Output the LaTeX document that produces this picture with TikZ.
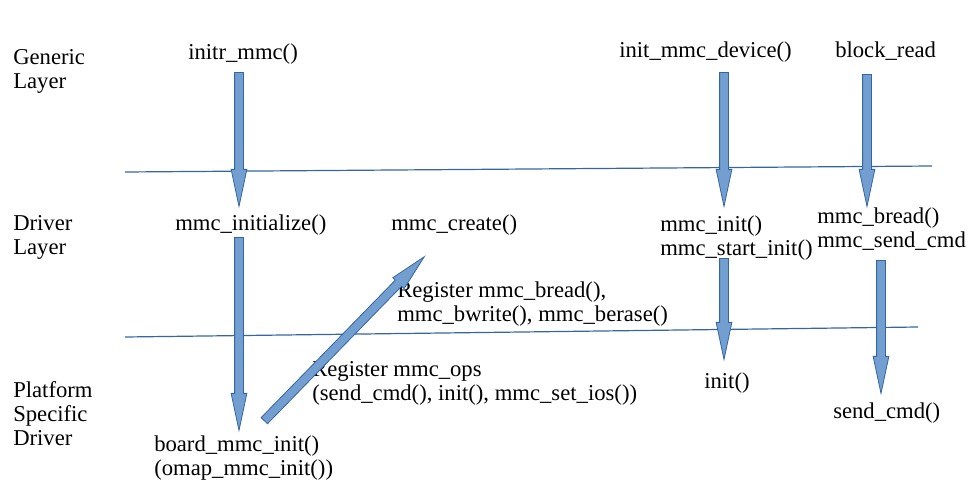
\documentclass[tikz,border=0pt]{standalone}
\usepackage{fontspec}
\setmainfont{Liberation Serif}
\usetikzlibrary{shapes,arrows,positioning,calc}

\definecolor{arrowfill}{HTML}{729FCF}
\definecolor{arrowline}{HTML}{3465A4}
\definecolor{layerline}{HTML}{3465A4}

\newcommand{\blockarrow}[2]{%
  \path let \p1=($(#2)-(#1)$) in
    node [fatarrow, anchor=tail, minimum height={veclen(\x1,\y1)}, rotate={atan2(\y1,\x1)}]
    at (#1) {};}

\begin{document}
\begin{tikzpicture}[x=0.75pt, y=-0.75pt, every node/.style={font=\fontsize{17}{18}\selectfont}]
\tikzstyle{label} = [inner sep=0pt, anchor=base west, align=left]
\tikzstyle{fatarrow} = [single arrow, draw=arrowline, fill=arrowfill, line width=0.6pt, inner sep=0pt, text height=3pt, text depth=3pt, single arrow head extend=2.6pt, single arrow tip angle=24, minimum width=0pt]
\tikzstyle{layer} = [draw=layerline, line width=0.9pt]

\useasboundingbox (0,0) rectangle (968,500);

% layer names (base = last line)
\node [label] (generic) at (13,88) {Generic\\Layer};
\node [label] (driver) at (13,254) {Driver\\Layer};
\node [label] (platform) at (13,445) {Platform\\Specific\\Driver};

% functions
\node [label] (initrmmc) at (188,59) {initr\_mmc()};
\node [label] (mmcinitialize) at (175,230) {mmc\_initialize()};
\node [label] (mmccreate) at (391,230) {mmc\_create()};
\node [label] (boardinit) at (154,475) {board\_mmc\_init()\\(omap\_mmc\_init())};
\node [label] (regbread) at (397,321) {Register mmc\_bread(),\\mmc\_bwrite(), mmc\_berase()};
\node [label] (regops) at (312,400) {Register mmc\_ops\\(send\_cmd(), init(), mmc\_set\_ios())};
\node [label] (initdevice) at (619,57) {init\_mmc\_device()};
\node [label] (mmcinit) at (660,255) {mmc\_init()\\mmc\_start\_init()};
\node [label] (initfn) at (704,388) {init()};
\node [label] (blockread) at (835,57) {block\_read};
\node [label] (mmcbread) at (817,247) {mmc\_bread()\\mmc\_send\_cmd};
\node [label] (sendcmd) at (833,418) {send\_cmd()};

% layer borders
\coordinate (upperl) at (125,172);
\coordinate (upperr) at (932,166);
\coordinate (lowerl) at (125,337);
\coordinate (lowerr) at (918,327);
\draw [layer] (upperl) -- (upperr);
\draw [layer] (lowerl) -- (lowerr);

% arrow ends
\coordinate (initrs) at (239,72);
\coordinate (initre) at (239,206);
\coordinate (inits) at (239,237);
\coordinate (inite) at (239,430);
\coordinate (boards) at (264,421);
\coordinate (boarde) at (424,257);
\coordinate (devs) at (724,72);
\coordinate (deve) at (724,206);
\coordinate (mmcs) at (724,258);
\coordinate (mmce) at (724,359);
\coordinate (blks) at (867,74);
\coordinate (blke) at (867,206);
\coordinate (breads) at (881,260);
\coordinate (breade) at (881,393);

\foreach \s/\e in {initrs/initre, inits/inite, boards/boarde, devs/deve, mmcs/mmce, blks/blke, breads/breade}
  \blockarrow{\s}{\e};
\end{tikzpicture}
\end{document}
